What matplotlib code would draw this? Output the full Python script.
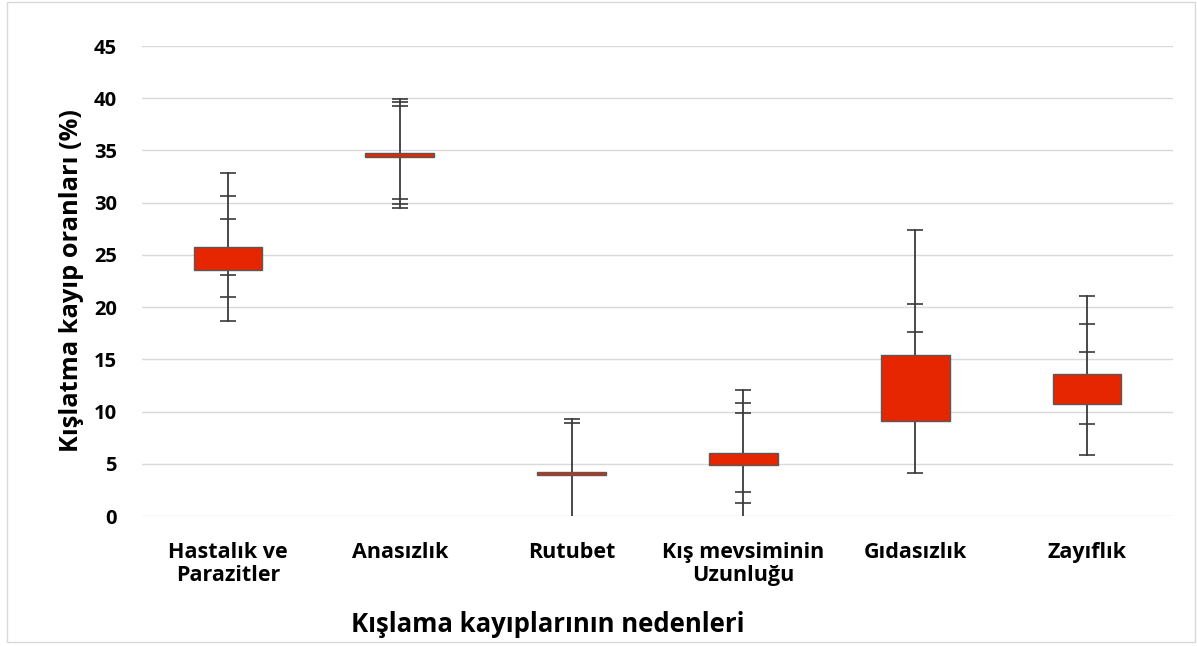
import matplotlib.pyplot as plt
from matplotlib.patches import Rectangle

plt.rcParams['font.family'] = ['Open Sans', 'DejaVu Sans']
plt.rcParams['font.weight'] = 'bold'

categories = ['Hastalık ve\nParazitler', 'Anasızlık', 'Rutubet',
              'Kış mevsiminin\nUzunluğu', 'Gıdasızlık', 'Zayıflık']
box_low = [23.6, 34.35, 3.9, 4.9, 9.05, 10.75]
box_high = [25.8, 34.8, 4.2, 6.07, 15.42, 13.57]
whisker_low = [18.65, 29.5, 0.0, 0.0, 4.1, 5.87]
whisker_high = [32.8, 39.97, 9.32, 12.07, 27.4, 21.1]
cap_levels = [
    [32.8, 30.65, 28.45, 23.05, 21.0, 18.65],
    [39.97, 39.66, 39.27, 30.33, 29.9, 29.5],
    [9.32, 8.88],
    [12.07, 10.85, 9.83, 2.3, 1.28],
    [27.4, 20.28, 17.66, 4.1],
    [21.1, 18.39, 15.71, 8.81, 5.87],
]
yticks = [0, 5, 10, 15, 20, 25, 30, 35, 40, 45]

fig = plt.figure(figsize=(11.97, 6.46), dpi=100)
ax = fig.add_axes([142 / 1197, 1 - 516 / 646, (1173 - 142) / 1197, (516 - 46) / 646])

box_w = 0.4
for i in range(len(categories)):
    # whisker line
    ax.plot([i, i], [whisker_low[i], whisker_high[i]], color='#3a3a3a', lw=1.3, zorder=2)
    # caps
    ax.plot([i] * len(cap_levels[i]), cap_levels[i], ls='none', marker='_',
            markersize=12, markeredgewidth=1.2, color='#3a3a3a', zorder=2)
    ax.add_patch(Rectangle((i - box_w / 2, box_low[i]), box_w, box_high[i] - box_low[i],
                           facecolor='#e52600', edgecolor='#595959', lw=1.0, zorder=3))

ax.set_xlim(-0.5, len(categories) - 0.5)
ax.set_ylim(0, 45)
ax.set_yticks(yticks)
ax.set_xticks(range(len(categories)))
ax.set_xticklabels(categories, fontsize=15.5, fontweight='bold', linespacing=1.1)
ax.tick_params(axis='y', length=0, pad=18, labelsize=14.5)
ax.tick_params(axis='x', length=0, pad=19)
for lbl in ax.get_yticklabels():
    lbl.set_fontweight('bold')
ax.grid(axis='y', color='#d9d9d9', lw=1.0, zorder=0)
ax.set_axisbelow(True)
for s in ax.spines.values():
    s.set_visible(False)

fig.text(72 / 1197, 1 - 281 / 646, 'Kışlatma kayıp oranları (%)', rotation=90,
         ha='center', va='center', fontsize=18.3, fontweight='bold')
fig.text(548 / 1197, 1 - 625 / 646, 'Kışlama kayıplarının nedenleri',
         ha='center', va='center', fontsize=18.5, fontweight='bold')

# outer frame
fig.patches.append(Rectangle((7 / 1197, 4 / 646), 1188 / 1197, 640 / 646,
                             transform=fig.transFigure, fill=False,
                             edgecolor='#d9d9d9', lw=1.0))

fig.savefig('out.png', dpi=100)
